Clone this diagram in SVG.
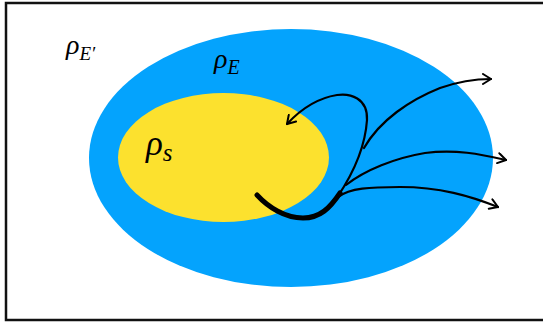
<svg xmlns="http://www.w3.org/2000/svg" width="543" height="328" viewBox="0 0 543 328">
<defs>
<style>
text{font-family:'Liberation Serif','Times New Roman',serif;font-style:italic;fill:#000}
.thin{fill:none;stroke:#000;stroke-width:2.2;stroke-linecap:round}
</style>
<marker id="ah" viewBox="0 0 12 12" refX="10" refY="6" markerWidth="12" markerHeight="12" markerUnits="userSpaceOnUse" orient="auto">
<path d="M2,1 L10,6 L2,11" fill="none" stroke="#000" stroke-width="2" stroke-linecap="round" stroke-linejoin="round"/>
</marker>
</defs>
<rect x="0" y="0" width="543" height="328" fill="#fff"/>
<g id="frame"><rect x="6" y="3" width="545" height="317" fill="none" stroke="#111" stroke-width="2.5"/></g>
<g id="env-outer"><text x="66" y="54" font-size="28">ρ<tspan font-size="19" dy="6">E′</tspan></text></g>
<g id="env"><ellipse cx="291" cy="158" rx="202" ry="129" fill="#04A3FD"/>
<text x="214" y="68" font-size="28">ρ<tspan font-size="20" dy="6">E</tspan></text></g>
<g id="system"><ellipse cx="223.5" cy="157.5" rx="105.5" ry="64.5" fill="#FCE12E"/>
<text x="146" y="155" font-size="35">ρ<tspan font-size="25" dy="6">s</tspan></text></g>
<g id="connectors">
<path d="M257,195 C268,207 285,218 303,218 C320,218 330,208 340,193" fill="none" stroke="#000" stroke-width="5" stroke-linecap="round"/>
<path class="thin" d="M338,196 C352,175 365,150 367,120 C368,98 350,93 337,95 C318,98 300,110 287,124" marker-end="url(#ah)"/>
<path class="thin" d="M364,148 C380,120 410,100 440,88 C460,81 475,79 491,79" marker-end="url(#ah)"/>
<path class="thin" d="M346,185 C365,170 395,158 425,153 C455,149 480,154 506,160" marker-end="url(#ah)"/>
<path class="thin" d="M338,197 C350,188 370,187 400,187 C440,187 470,196 498,207" marker-end="url(#ah)"/>
</g>
</svg>
